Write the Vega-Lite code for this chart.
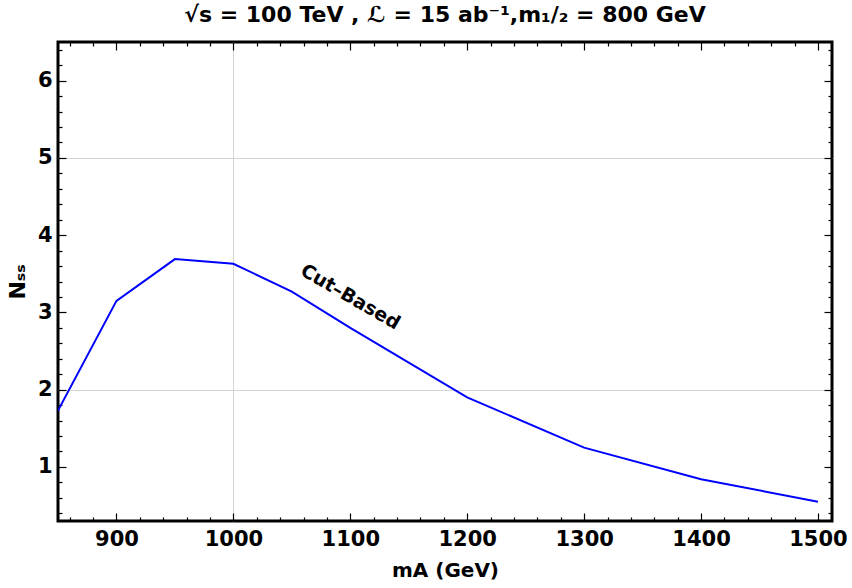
{
  "$schema": "https://vega.github.io/schema/vega-lite/v6.json",
  "width": 774,
  "height": 479,
  "autosize": {"type": "none"},
  "padding": {"left": 58, "top": 42, "right": 20, "bottom": 67},
  "title": {
    "text": "√s  = 100 TeV , ℒ = 15 ab⁻¹,m₁/₂ = 800 GeV",
    "font": "DejaVu Sans",
    "fontSize": 22,
    "fontWeight": "bold",
    "color": "black",
    "anchor": "middle",
    "offset": 14
  },
  "config": {
    "view": {"stroke": "black", "strokeWidth": 3},
    "axis": {
      "domain": false,
      "tickColor": "black",
      "tickWidth": 1.2,
      "labelFont": "DejaVu Sans",
      "labelFontSize": 21,
      "labelFontWeight": "bold",
      "labelColor": "black",
      "titleFont": "DejaVu Sans",
      "titleFontSize": 20,
      "titleFontWeight": "bold",
      "titleColor": "black",
      "gridColor": "#d4d4d4",
      "gridWidth": 1
    }
  },
  "datasets": {
    "curve": [
      {"mA": 850, "Nss": 1.73},
      {"mA": 900, "Nss": 3.15},
      {"mA": 950, "Nss": 3.69},
      {"mA": 1000, "Nss": 3.63},
      {"mA": 1050, "Nss": 3.27},
      {"mA": 1100, "Nss": 2.80},
      {"mA": 1200, "Nss": 1.90},
      {"mA": 1300, "Nss": 1.25},
      {"mA": 1400, "Nss": 0.84},
      {"mA": 1500, "Nss": 0.55}
    ],
    "label": [
      {"mA": 1100, "Nss": 3.2, "text": "Cut–Based"}
    ]
  },
  "layer": [
    {
      "data": {"name": "curve"},
      "mark": {"type": "line", "color": "#0000ff", "strokeWidth": 2, "clip": true},
      "encoding": {
        "x": {
          "field": "mA", "type": "quantitative",
          "scale": {"domain": [850, 1512], "nice": false, "zero": false},
          "axis": {
            "orient": "bottom",
            "title": "mA (GeV)",
            "titlePadding": 11,
            "values": [860,880,900,920,940,960,980,1000,1020,1040,1060,1080,1100,1120,1140,1160,1180,1200,1220,1240,1260,1280,1300,1320,1340,1360,1380,1400,1420,1440,1460,1480,1500],
            "labelExpr": "datum.value % 100 === 0 ? format(datum.value, 'd') : ''",
            "labelPadding": 15,
            "tickSize": {"condition": {"test": "datum.value % 100 === 0", "value": -8}, "value": -4},
            "grid": true,
            "gridOpacity": {"condition": {"test": "datum.value === 1000", "value": 1}, "value": 0}
          }
        },
        "y": {
          "field": "Nss", "type": "quantitative",
          "scale": {"domain": [0.3, 6.5], "nice": false, "zero": false},
          "axis": {
            "orient": "left",
            "title": "Nₛₛ",
            "titleFontSize": 22,
            "titlePadding": 8,
            "values": [0.4,0.6,0.8,1,1.2,1.4,1.6,1.8,2,2.2,2.4,2.6,2.8,3,3.2,3.4,3.6,3.8,4,4.2,4.4,4.6,4.8,5,5.2,5.4,5.6,5.8,6,6.2,6.4],
            "labelExpr": "abs(datum.value - round(datum.value)) < 0.001 ? format(datum.value, 'd') : ''",
            "labelPadding": 14,
            "tickSize": {"condition": {"test": "abs(datum.value - round(datum.value)) < 0.001", "value": -8}, "value": -4},
            "grid": true,
            "gridOpacity": {"condition": {"test": "datum.value === 2 || datum.value === 5", "value": 1}, "value": 0}
          }
        }
      }
    },
    {
      "data": {"name": "label"},
      "mark": {"type": "text", "font": "DejaVu Sans", "fontSize": 19, "fontWeight": "bold", "angle": 30, "color": "black", "align": "center", "baseline": "middle"},
      "encoding": {
        "x": {
          "field": "mA", "type": "quantitative",
          "scale": {"domain": [850, 1512], "nice": false, "zero": false},
          "axis": {
            "orient": "top",
            "title": null,
            "labels": false,
            "values": [860,880,900,920,940,960,980,1000,1020,1040,1060,1080,1100,1120,1140,1160,1180,1200,1220,1240,1260,1280,1300,1320,1340,1360,1380,1400,1420,1440,1460,1480,1500],
            "tickSize": {"condition": {"test": "datum.value % 100 === 0", "value": -8}, "value": -4}
          }
        },
        "y": {
          "field": "Nss", "type": "quantitative",
          "scale": {"domain": [0.3, 6.5], "nice": false, "zero": false},
          "axis": {
            "orient": "right",
            "title": null,
            "labels": false,
            "values": [0.4,0.6,0.8,1,1.2,1.4,1.6,1.8,2,2.2,2.4,2.6,2.8,3,3.2,3.4,3.6,3.8,4,4.2,4.4,4.6,4.8,5,5.2,5.4,5.6,5.8,6,6.2,6.4],
            "tickSize": {"condition": {"test": "abs(datum.value - round(datum.value)) < 0.001", "value": -8}, "value": -4}
          }
        },
        "text": {"field": "text"}
      }
    }
  ],
  "resolve": {"axis": {"x": "independent", "y": "independent"}}
}
